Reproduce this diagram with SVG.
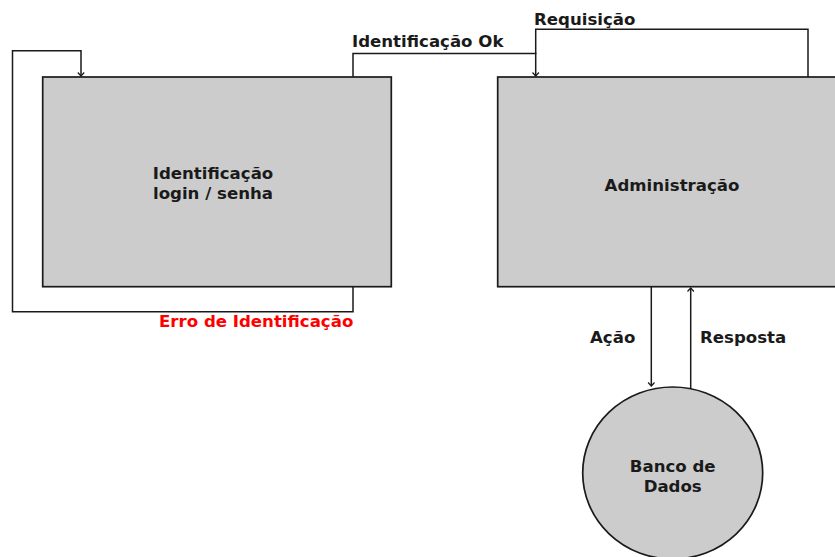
<svg xmlns="http://www.w3.org/2000/svg" width="835" height="557" viewBox="0 0 835 557">
  <style>
    .node { fill: #cccccc; stroke: #1a1a1a; stroke-width: 1.7; }
    .conn { fill: none; stroke: #1a1a1a; stroke-width: 1.5; }
    .lbl { font-family: "DejaVu Sans", Verdana, sans-serif; font-weight: bold; font-size: 16.6px; fill: #1a1a1a; }
    .err { fill: #ff0000; }
  </style>
  <defs>
    <marker id="arr" markerUnits="userSpaceOnUse" markerWidth="10" markerHeight="10" refX="5" refY="5" orient="auto" viewBox="0 0 10 10">
      <path d="M1.5,1.8 L5,5 L1.5,8.2" fill="none" stroke="#1a1a1a" stroke-width="1.2"/>
    </marker>
  </defs>
  <rect width="835" height="557" fill="#ffffff"/>

  <g id="connectors">
    <path class="conn" d="M353,287 V311.7 H12.5 V50.7 H81 V76" marker-end="url(#arr)"/>
    <path class="conn" d="M353,77 V53.5 H535.7 V76" marker-end="url(#arr)"/>
    <path class="conn" d="M808,77 V29.3 H535.7 V54"/>
    <path class="conn" d="M651.3,287 V386" marker-end="url(#arr)"/>
    <path class="conn" d="M690.7,389 V288" marker-end="url(#arr)"/>
    <text class="lbl" x="534" y="25">Requisição</text>
    <text class="lbl" x="352" y="47">Identificação Ok</text>
    <text class="lbl err" x="159" y="327">Erro de Identificação</text>
    <text class="lbl" x="590" y="343">Ação</text>
    <text class="lbl" x="700" y="343">Resposta</text>
  </g>

  <g id="identificacao">
    <rect class="node" x="42.7" y="77" width="348.6" height="209.7"/>
    <text class="lbl" x="213" y="179" text-anchor="middle">Identificação</text>
    <text class="lbl" x="213" y="199" text-anchor="middle">login / senha</text>
  </g>

  <g id="administracao">
    <rect class="node" x="497.7" y="77" width="345" height="209.7"/>
    <text class="lbl" x="672" y="191" text-anchor="middle">Administração</text>
  </g>

  <g id="banco">
    <ellipse class="node" cx="672.7" cy="473" rx="90" ry="86"/>
    <text class="lbl" x="672.7" y="472" text-anchor="middle">Banco de</text>
    <text class="lbl" x="672.7" y="492" text-anchor="middle">Dados</text>
  </g>
</svg>
